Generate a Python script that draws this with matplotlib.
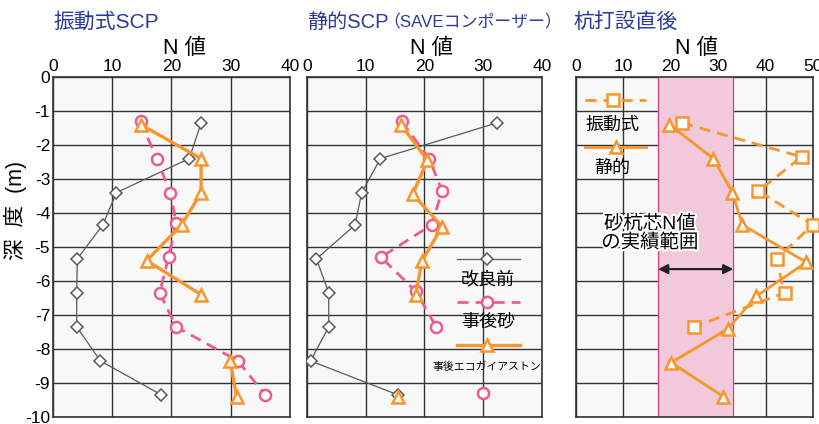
import numpy as np
import matplotlib.pyplot as plt
import matplotlib.patheffects as pe

plt.rcParams['font.family'] = ['Liberation Sans', 'Noto Sans CJK JP', 'DejaVu Sans']
plt.rcParams['axes.unicode_minus'] = False

nan = np.nan

# ── data (N value vs depth) ──────────────────────────────────────────────────
# panel 1: 振動式SCP
vib_before_n = [25, 23, 10.7, 8.4, 4.1, 4.0, 4.0, 8.0, 18.3]
vib_before_d = [-1.35, -2.4, -3.4, -4.35, -5.35, -6.35, -7.35, -8.35, -9.35]
vib_sand_n = [14.8, 17.5, 19.8, 20.8, 19.5, 18.0, 20.8, 31.2, 35.8]
vib_sand_d = [-1.3, -2.4, -3.4, -4.3, -5.3, -6.35, -7.35, -8.35, -9.35]
vib_eco_n = [14.8, 25, 25, 21.7, 15.8, 25, nan, 29.9, 31.0]
vib_eco_d = [-1.4, -2.4, -3.4, -4.35, -5.4, -6.4, nan, -8.35, -9.4]

# panel 2: 静的SCP
sta_before_n = [32.3, 12.5, 9.3, 8.2, 1.6, 3.7, 3.7, 0.6, 15.5]
sta_before_d = [-1.35, -2.4, -3.4, -4.35, -5.35, -6.35, -7.35, -8.35, -9.35]
sta_sand_n = [16.1, 20.8, 23.0, 21.2, 12.6, 18.5, 22.0, nan, 30.0]
sta_sand_d = [-1.3, -2.4, -3.35, -4.35, -5.3, -6.3, -7.35, nan, -9.3]
sta_eco_n = [16.0, 20.5, 18.0, 23.0, 19.6, 18.5, nan, nan, 15.5]
sta_eco_d = [-1.4, -2.45, -3.45, -4.4, -5.4, -6.4, nan, nan, -9.4]

# panel 3: 杭打設直後
pile_vib_n = [22.4, 47.6, 38.5, 49.9, 42.3, 44.0, 24.9]
pile_vib_d = [-1.35, -2.35, -3.35, -4.35, -5.35, -6.35, -7.35]
pile_sta_n = [19.7, 29.0, 33.0, 35.1, 48.6, 38.0, 32.1, 20.1, 31.1]
pile_sta_d = [-1.4, -2.4, -3.4, -4.35, -5.45, -6.45, -7.4, -8.4, -9.4]
band_lo, band_hi = 17.3, 33.2

# ── styles ───────────────────────────────────────────────────────────────────
BLUE = "#2b3a9c"
GRAY = "#5a5a5a"
PINK = "#ee5b8d"
ORANGE = "#f7962b"
BG = "#f8f8f9"

st_before = dict(color=GRAY, lw=0.9, marker="D", ms=6, mfc="white", mec=GRAY, mew=1.1)
st_sand = dict(color=PINK, lw=2.0, ls=(0, (4, 2.5)), marker="o", ms=8, mfc="white", mec=PINK, mew=1.8)
st_eco = dict(color=ORANGE, lw=2.4, marker="^", ms=9, mfc="white", mec=ORANGE, mew=1.8)
st_pvib = dict(color=ORANGE, lw=2.0, ls=(0, (4, 2.5)), marker="s", ms=8, mfc="white", mec=ORANGE, mew=1.8)
st_psta = dict(color=ORANGE, lw=2.0, marker="^", ms=9, mfc="white", mec=ORANGE, mew=1.8)


def marker_only(st):
    return {k: v for k, v in st.items() if k not in ("color", "lw", "ls")}


fig = plt.figure(figsize=(8.2, 4.24), dpi=100)
W, H = 820, 424


def make_ax(x0, x1, xmax, show_y):
    ax = fig.add_axes([x0 / W, 1 - 417 / H, (x1 - x0) / W, 340 / H])
    ax.set_facecolor(BG)
    ax.set_xlim(0, xmax)
    ax.set_ylim(-10, 0)
    ax.set_xticks(np.arange(0, xmax + 1, 10))
    ax.set_yticks(np.arange(-10, 1, 1))
    ax.xaxis.tick_top()
    ax.tick_params(axis="both", length=0, labelsize=12.5, pad=2)
    if not show_y:
        ax.set_yticklabels([])
    else:
        ax.set_yticklabels([str(v) for v in range(-10, 1)])
    ax.grid(True, color="#333333", lw=1.0)
    ax.set_axisbelow(True)
    for s in ax.spines.values():
        s.set_color("#333333")
        s.set_linewidth(1.2)
    return ax


ax1 = make_ax(53, 290, 40, True)
ax2 = make_ax(307, 542, 40, False)
ax3 = make_ax(576, 813, 50, False)

# ---- panel 1 ----------------------------------------------------------------
ax1.plot(vib_before_n, vib_before_d, **st_before, zorder=3)
ax1.plot(vib_sand_n, vib_sand_d, **st_sand, zorder=4)
ax1.plot(vib_eco_n, vib_eco_d, **st_eco, zorder=5)

# ---- panel 2 ----------------------------------------------------------------
ax2.plot(sta_before_n, sta_before_d, **st_before, zorder=3)
ax2.plot(sta_sand_n, sta_sand_d, **st_sand, zorder=4)
ax2.plot(sta_eco_n, sta_eco_d, **st_eco, zorder=5)

# legend drawn by hand inside panel 2
ax2.plot([25.5, 36.3], [-5.35, -5.35], color=GRAY, lw=0.9, zorder=6)
ax2.plot([30.6], [-5.35], ls="none", **marker_only(st_before), zorder=7)
ax2.text(30.8, -5.97, "改良前", ha="center", va="center", fontsize=13, zorder=7)
ax2.plot([25.5, 36.3], [-6.62, -6.62], color=PINK, lw=2.0, ls=(0, (4, 2.5)), zorder=6)
ax2.plot([30.6], [-6.62], ls="none", **marker_only(st_sand), zorder=7)
ax2.text(30.8, -7.2, "事後砂", ha="center", va="center", fontsize=13, zorder=7)
ax2.plot([25.5, 36.3], [-7.88, -7.88], color=ORANGE, lw=2.4, zorder=6)
ax2.plot([30.6], [-7.88], ls="none", **marker_only(st_eco), zorder=7)
ax2.text(30.6, -8.53, "事後エコガイアストン", ha="center", va="center", fontsize=7.8, zorder=7)

# ---- panel 3 ----------------------------------------------------------------
ax3.axvspan(band_lo, band_hi, color="#f2c9da", zorder=1)
ax3.axvline(band_lo, color="#e0307a", lw=0.8, zorder=2)
ax3.axvline(band_hi, color="#e0307a", lw=0.8, zorder=2)
ax3.plot(pile_vib_n, pile_vib_d, **st_pvib, zorder=4, clip_on=False)
ax3.plot(pile_sta_n, pile_sta_d, **st_psta, zorder=5, clip_on=False)

ax3.plot([1.9, 14.8], [-0.68, -0.68], color=ORANGE, lw=2.0, ls=(0, (4, 2.5)), zorder=6)
ax3.plot([7.8], [-0.68], ls="none", **marker_only(st_pvib), zorder=7)
ax3.text(7.6, -1.42, "振動式", ha="center", va="center", fontsize=13, zorder=7)
ax3.plot([1.9, 14.8], [-2.06, -2.06], color=ORANGE, lw=2.0, zorder=6)
ax3.plot([8.5], [-2.06], ls="none", **marker_only(st_psta), zorder=7)
ax3.text(7.6, -2.7, "静的", ha="center", va="center", fontsize=13, zorder=7)

ax3.text(15.6, -4.6, "砂杭芯N値\nの実績範囲", ha="center", va="center", fontsize=14,
         linespacing=1.0, zorder=7,
         path_effects=[pe.withStroke(linewidth=3, foreground="white")])
ax3.annotate("", xy=(band_lo, -5.65), xytext=(band_hi, -5.65),
             arrowprops=dict(arrowstyle="<|-|>", color="#222222", lw=1.6,
                             mutation_scale=14, shrinkA=0, shrinkB=0), zorder=7)

# ── titles and axis labels ───────────────────────────────────────────────────
fig.text(53 / W, 1 - 22 / H, "振動式SCP", color=BLUE, fontsize=15, ha="left", va="center")
fig.text(307 / W, 1 - 22 / H, "静的SCP", color=BLUE, fontsize=14.5, ha="left", va="center")
fig.text(383 / W, 1 - 22 / H, "（SAVEコンポーザー）", color=BLUE, fontsize=12.2, ha="left", va="center")
fig.text(573 / W, 1 - 22 / H, "杭打設直後", color=BLUE, fontsize=15, ha="left", va="center")

for xc in (185, 432, 697):
    fig.text(xc / W, 1 - 49 / H, "N 値", fontsize=15.5, ha="center", va="center")

fig.text(15 / W, 1 - 210 / H, "深  度  (m)", fontsize=15.5, rotation=90, ha="center", va="center")

fig.savefig("out.png", dpi=100)
